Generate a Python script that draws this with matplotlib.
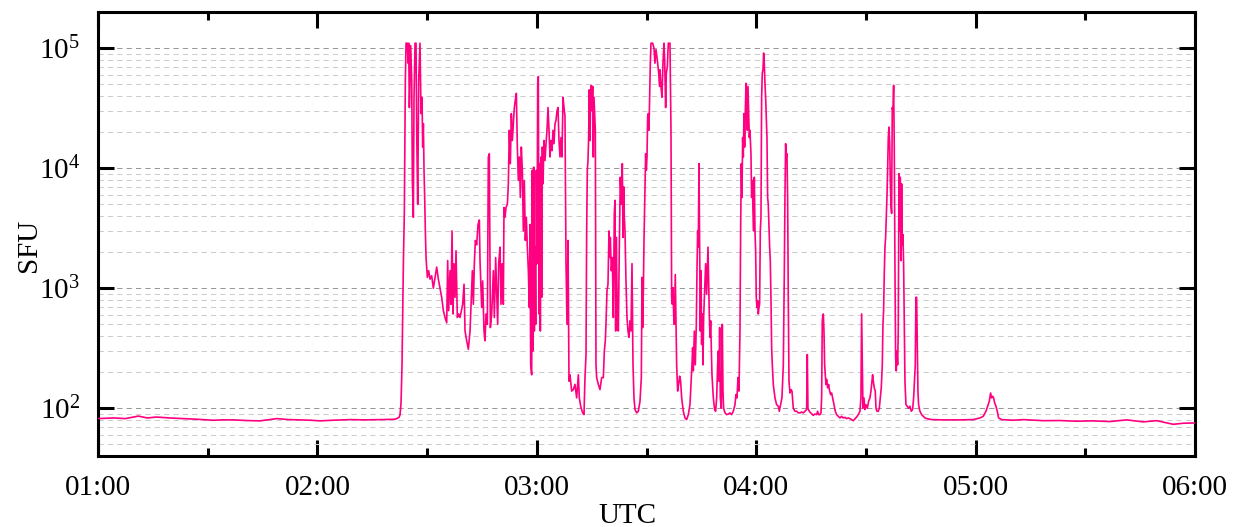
import matplotlib
matplotlib.use("Agg")
import matplotlib.pyplot as plt
import matplotlib.dates as mdates
from matplotlib.ticker import LogLocator, NullFormatter
import pandas as pd

# (minutes after 01:00 UTC, flux in SFU)
quiet_before = [(0, 82), (4.2, 83), (7.5, 82), (11.0, 86), (13.5, 83), (16.0, 84.5),
                (19.5, 83), (23.3, 82), (27.0, 81), (31.5, 79.4), (34.0, 80), (37.0, 80),
                (40.5, 79), (44.3, 78.5), (48.9, 82), (52.0, 80.5), (55.2, 80), (58.0, 79.5),
                (60.7, 78.5), (64.5, 79.5), (68.9, 80.4), (73.0, 80), (78.0, 80.5), (81.2, 81)]

burst_0222 = [(81.67, 82), (82.31, 84), (82.58, 88), (82.86, 110), (83.13, 230), (83.31, 600),
              (83.50, 1600), (83.77, 4400), (84.04, 54000), (84.23, 110000), (84.59, 110000),
              (84.77, 75000), (84.95, 110000), (85.14, 32000), (85.32, 54000), (85.50, 105000),
              (85.78, 54000), (85.96, 7900), (86.23, 3900), (86.41, 39000), (86.69, 110000),
              (86.96, 110000), (87.14, 20700), (87.42, 5000), (87.69, 54000), (88.05, 110000),
              (88.33, 28500), (88.60, 39000), (88.78, 15000), (88.97, 23500), (89.15, 9600),
              (89.33, 5700), (89.51, 3000), (89.70, 1800), (90.06, 1230), (90.42, 1400),
              (90.79, 1190), (91.24, 1270), (91.70, 1000), (92.16, 1230), (92.61, 1500),
              (93.07, 1190), (93.52, 1000), (93.98, 840), (94.44, 650), (94.89, 570),
              (95.35, 515), (95.62, 1700), (95.89, 650), (96.26, 1400), (96.53, 735),
              (96.81, 3000), (97.08, 610), (97.35, 1600), (97.63, 840), (97.90, 2050),
              (98.26, 570), (98.63, 610), (98.99, 570), (99.36, 650), (99.72, 735),
              (100.09, 1080), (100.36, 440), (100.82, 365), (101.27, 310), (101.73, 440),
              (102.09, 840), (102.37, 1400), (102.64, 735), (102.91, 1600), (103.19, 2500),
              (103.55, 2300), (103.92, 3400), (104.28, 3700)]

burst_0245 = [(104.46, 1700), (104.92, 690), (105.19, 1150), (105.55, 440), (105.83, 365),
              (106.10, 610), (106.47, 500), (106.74, 12400), (107.01, 13200), (107.29, 470),
              (107.65, 610), (108.11, 1400), (108.38, 570), (108.74, 1800), (109.02, 950),
              (109.29, 500), (109.56, 1600), (109.93, 2200), (110.20, 735), (110.48, 1600),
              (110.84, 735), (111.02, 4700), (111.30, 3900), (111.57, 4700), (111.94, 5000),
              (112.21, 7400), (112.48, 20700), (112.76, 10900), (113.03, 28500), (113.30, 17000),
              (113.58, 23500), (113.85, 32000), (114.12, 37000), (114.40, 42000), (114.67, 15000),
              (114.94, 7900), (115.22, 12400), (115.49, 5700), (115.76, 15000), (116.04, 9600),
              (116.31, 3000), (116.58, 7900), (116.86, 2500), (117.13, 3900), (117.40, 2200),
              (117.68, 1400), (117.95, 690), (118.13, 3400), (118.32, 230), (118.59, 190),
              (118.77, 9600), (118.95, 300), (119.14, 10200), (119.32, 440), (119.50, 2200),
              (119.68, 500), (119.87, 9600), (120.05, 1600), (120.23, 51000), (120.41, 58000),
              (120.60, 610), (120.78, 10900), (120.96, 440), (121.14, 12400), (121.32, 840),
              (121.51, 15000), (121.69, 7400), (121.96, 17000), (122.24, 11600), (122.51, 16000),
              (122.78, 20700), (123.06, 32000), (123.33, 20700), (123.60, 12400), (123.88, 17000),
              (124.15, 14000), (124.42, 20700), (124.70, 16000), (124.97, 23500), (125.24, 25000),
              (125.52, 30000), (125.79, 32000), (126.06, 17000), (126.34, 12400), (126.61, 18000),
              (126.88, 12400), (127.16, 39000), (127.43, 32000), (127.70, 27000), (127.98, 1600),
              (128.25, 500), (128.53, 2500), (128.80, 168)]

burst_0310 = [(129.07, 190), (129.53, 139), (129.98, 143), (130.44, 158), (130.89, 122),
              (131.35, 190), (131.62, 122), (131.99, 104), (132.53, 91.5), (132.90, 88.5),
              (133.17, 180), (133.45, 280), (133.63, 3000), (133.81, 9600), (133.99, 11600),
              (134.17, 18000), (134.36, 45000), (134.54, 17000), (134.72, 39000), (134.90, 49000),
              (135.09, 30000), (135.27, 48000), (135.45, 12400), (135.63, 39000), (135.82, 28500),
              (136.00, 20700), (136.18, 230), (136.36, 180), (136.82, 158), (137.27, 143),
              (137.73, 180), (138.19, 180), (138.46, 300), (138.73, 365), (138.91, 500),
              (139.19, 950), (139.46, 1080), (139.74, 3000), (139.92, 1800), (140.10, 2650),
              (140.37, 1400), (140.65, 1800), (140.92, 570), (141.19, 4200), (141.38, 5400),
              (141.56, 440), (141.74, 2650), (142.01, 610), (142.29, 440), (142.56, 2200),
              (142.83, 8400), (143.11, 5000), (143.38, 10900), (143.56, 2650), (143.75, 7000),
              (143.93, 3900), (144.11, 3000), (144.38, 1150), (144.66, 570), (144.93, 440),
              (145.20, 390), (145.48, 535), (145.75, 440), (146.03, 1600), (146.30, 230),
              (146.57, 122), (146.85, 97.5), (147.30, 91.5), (147.76, 94.4), (148.21, 114),
              (148.58, 180), (148.76, 1230), (148.94, 470), (149.13, 950), (149.31, 2500),
              (149.58, 6500), (149.76, 13200), (149.95, 9600), (150.13, 12400), (150.31, 27000),
              (150.49, 28500), (150.67, 20700), (150.86, 39000), (151.04, 75000), (151.22, 110000),
              (151.68, 110000), (152.04, 100000), (152.31, 75000), (152.59, 97000), (152.95, 80000),
              (153.32, 62000), (153.59, 48000)]

burst_0335 = [(153.68, 66000), (153.95, 48000), (154.23, 39000), (154.50, 75000), (154.77, 110000),
              (154.96, 80000), (155.23, 32000), (155.41, 62000), (155.69, 70000), (155.96, 110000),
              (156.41, 110000), (156.69, 20700), (156.87, 840), (157.05, 735), (157.24, 1010),
              (157.42, 610), (157.60, 500), (157.87, 1300), (158.06, 500), (158.24, 230),
              (158.51, 139), (158.78, 158), (159.06, 185), (159.33, 168), (159.61, 122),
              (160.06, 94.4), (160.52, 83), (160.97, 80.4), (161.43, 88.5), (161.88, 107),
              (162.16, 158), (162.43, 230), (162.61, 320), (162.80, 205), (163.07, 440),
              (163.34, 230), (163.62, 500), (163.80, 1400), (163.98, 3000), (164.16, 2200),
              (164.35, 10900), (164.53, 2050), (164.71, 440), (164.89, 1400), (165.07, 340),
              (165.26, 610), (165.44, 230), (165.62, 570), (165.89, 950), (166.17, 1600),
              (166.44, 890), (166.62, 1400), (166.81, 2200), (166.99, 1150), (167.17, 610),
              (167.35, 390), (167.54, 535), (167.72, 320), (167.90, 190), (168.27, 122),
              (168.63, 97.5), (168.90, 94.4), (169.18, 122), (169.45, 230), (169.63, 300),
              (169.82, 168), (170.00, 470), (170.18, 122), (170.45, 100), (170.73, 500),
              (170.91, 139), (171.09, 100), (171.46, 91.5), (171.91, 88.5), (172.37, 89.5),
              (172.82, 91.5), (173.28, 88.5), (173.74, 94.4), (174.19, 107), (174.46, 130),
              (174.74, 122), (175.01, 180), (175.28, 139), (175.56, 440), (175.74, 3000),
              (175.92, 10900), (176.10, 5700), (176.29, 18000), (176.47, 12400), (176.65, 28500),
              (176.83, 15000), (177.02, 30000), (177.20, 51000), (177.38, 42000), (177.56, 20700),
              (177.75, 48000), (177.93, 28500), (178.11, 18000)]

burst_0400 = [(178.29, 20700), (178.56, 13200), (178.75, 5700), (178.93, 7900), (179.11, 4400),
              (179.29, 3000), (179.48, 8400), (179.66, 3000), (179.84, 2050), (180.02, 840),
              (180.20, 690), (180.39, 785), (180.57, 610), (180.75, 690), (180.93, 735),
              (181.12, 3000), (181.30, 3900), (181.48, 39000), (181.66, 62000), (181.85, 66000),
              (182.03, 91000), (182.21, 75000), (182.39, 51000), (182.57, 39000), (182.76, 27000),
              (182.94, 18000), (183.12, 5700), (183.30, 5000), (183.49, 3200), (183.67, 2200),
              (183.85, 1700), (184.03, 840), (184.22, 320), (184.40, 230), (184.67, 158),
              (185.13, 122), (185.58, 107), (186.04, 104), (186.31, 94.4), (186.68, 107),
              (187.04, 122), (187.41, 230), (187.68, 1300), (187.86, 5700), (188.04, 16000),
              (188.23, 12400), (188.41, 13200), (188.59, 5700), (188.77, 840), (188.96, 168),
              (189.23, 134), (189.50, 143), (189.78, 139), (190.14, 100), (190.60, 94.4),
              (191.05, 94.4), (191.51, 91.5), (191.96, 91.5), (192.42, 93), (192.88, 91.5),
              (193.33, 94.4), (193.79, 97.5), (193.97, 280), (194.15, 100), (194.52, 94.4),
              (194.88, 91.5), (195.25, 89.5), (195.61, 87.3), (196.07, 89.5), (196.52, 88.5),
              (196.80, 94.4), (197.07, 88.5), (197.43, 88.5), (197.71, 91.5), (197.89, 122),
              (198.07, 535), (198.16, 570), (198.35, 610), (198.53, 440), (198.71, 230),
              (198.89, 190), (199.07, 158), (199.26, 174), (199.53, 148), (199.80, 158),
              (200.08, 139), (200.35, 130), (200.62, 134), (200.90, 122), (201.26, 107),
              (201.63, 94.4), (201.99, 88.5), (202.45, 85.7), (202.90, 83)]

burst_0425 = [(203.36, 85.7), (203.81, 83), (204.27, 84), (204.72, 82), (205.18, 83),
              (205.63, 82), (206.09, 80.4), (206.55, 78.8), (207.00, 81.5), (207.46, 84.5),
              (207.91, 88.5), (208.37, 94.4), (208.64, 122), (208.83, 610), (209.01, 230),
              (209.19, 100), (209.46, 122), (209.74, 97.5), (210.01, 107), (210.38, 100),
              (210.74, 114), (211.10, 122), (211.38, 139), (211.65, 168), (211.83, 190),
              (212.02, 168), (212.29, 148), (212.56, 139), (212.75, 100), (213.02, 94.4),
              (213.38, 94.4), (213.66, 100), (213.93, 122), (214.20, 148), (214.48, 230),
              (214.66, 500), (214.84, 650), (215.02, 1300), (215.21, 2200), (215.39, 2650),
              (215.57, 3900), (215.75, 5700), (215.94, 9600), (216.12, 18000), (216.30, 22000),
              (216.48, 17000), (216.67, 7900), (216.85, 5000), (217.03, 4200), (217.21, 32000),
              (217.39, 30000), (217.58, 49000), (217.76, 15000), (217.94, 1600), (218.12, 265),
              (218.31, 205), (218.49, 300), (218.67, 230), (218.85, 440), (219.04, 9000),
              (219.22, 3000), (219.40, 8400), (219.58, 1700), (219.77, 7400), (219.95, 2300),
              (220.13, 2800), (220.31, 1600), (220.49, 500), (220.68, 168), (220.95, 107),
              (221.31, 104), (221.68, 100), (222.04, 104), (222.41, 94.4), (222.77, 97.5),
              (223.05, 122), (223.23, 158), (223.50, 230), (223.68, 840), (223.87, 840),
              (224.05, 320), (224.23, 139), (224.41, 107), (224.78, 94.4), (225.23, 88.5),
              (225.69, 85.7), (226.15, 83), (226.60, 82)]

quiet_after = [(228.0, 80.4), (231.16, 80), (235.72, 80), (239.36, 80.4), (241.19, 83),
               (242.10, 85.7), (242.83, 94.4), (243.29, 104), (243.74, 114), (244.10, 134),
               (244.38, 122), (244.65, 126), (244.93, 122), (245.20, 111), (245.56, 104),
               (245.93, 94.4), (246.29, 83), (247.11, 80.4), (250.30, 79.5), (253.04, 80.4),
               (258.51, 78.8), (263.0, 79), (267.62, 78), (272.0, 78.5), (276.74, 77.5),
               (281.30, 80), (285.86, 77), (289.50, 78.8), (294.06, 73.5), (296.80, 75),
               (300.0, 75.4)]

segments = [quiet_before, burst_0222, burst_0245, burst_0310, burst_0335,
            burst_0400, burst_0425, quiet_after]
points = [p for seg in segments for p in seg]
minutes = [p[0] for p in points]
sfu = [p[1] for p in points]

start = pd.Timestamp("2024-05-14 01:00")
times = start + pd.to_timedelta(minutes, unit="min")

plt.rcParams["font.family"] = ["Liberation Serif", "DejaVu Serif"]

fig = plt.figure(figsize=(12.35, 5.27), dpi=100)
ax = fig.add_axes([0.0794, 0.1347, 0.8882, 0.8425])

ax.plot(times, sfu, color="#ff0080", lw=1.2, zorder=3)

ax.set_yscale("log")
ax.set_ylim(40, 2e5)
ax.set_xlim(start, start + pd.Timedelta(hours=5))

ax.yaxis.set_major_locator(LogLocator(base=10, numticks=10))
ax.yaxis.set_minor_locator(LogLocator(base=10, subs=range(2, 10), numticks=20))
ax.yaxis.set_minor_formatter(NullFormatter())
ax.xaxis.set_major_locator(mdates.HourLocator())
ax.xaxis.set_minor_locator(mdates.MinuteLocator(byminute=[30]))
ax.xaxis.set_major_formatter(mdates.DateFormatter("%H:%M"))

ax.grid(which="major", axis="y", color="#999999", ls=(0, (5, 4)), lw=0.75, zorder=1)
ax.grid(which="minor", axis="y", color="#cccccc", ls=(0, (5, 4)), lw=0.75, zorder=1)

ax.tick_params(which="major", direction="in", length=11.5, width=2.2,
               top=True, right=True, labelsize=21)
ax.tick_params(axis="x", which="major", pad=14)
ax.tick_params(axis="y", which="major", pad=13)
ax.tick_params(axis="x", which="minor", direction="in", length=6, width=2.2, top=True)
ax.tick_params(axis="y", which="minor", length=0)

for s in ax.spines.values():
    s.set_linewidth(2.2)

ax.set_ylabel("SFU", fontsize=21)
ax.set_xlabel("UTC", fontsize=21)
ax.xaxis.set_label_coords(0.483, -0.105)
ax.yaxis.set_label_coords(-0.051, 0.475)

fig.savefig("out.png", dpi=100)
